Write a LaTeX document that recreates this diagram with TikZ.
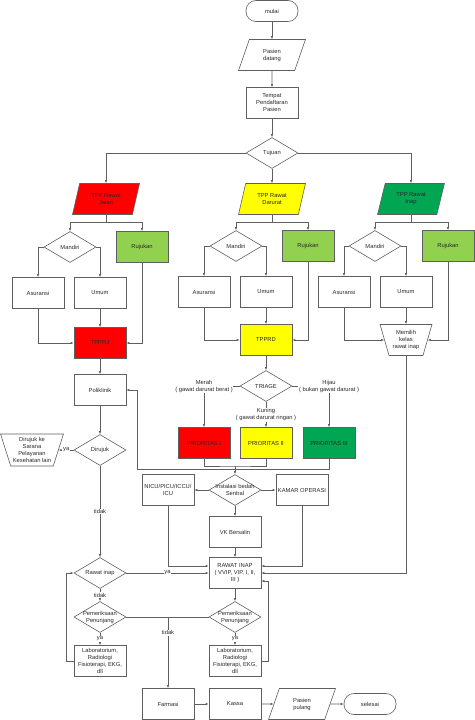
\documentclass[tikz,border=0pt]{standalone}
\usepackage{fontspec}
\setmainfont{Liberation Sans}
\usetikzlibrary{shapes.geometric,arrows.meta,positioning}
\definecolor{tppred}{RGB}{255,0,0}
\definecolor{tppyellow}{RGB}{255,255,0}
\definecolor{tppgreen}{RGB}{0,166,81}
\definecolor{rujukgreen}{RGB}{146,208,80}
\definecolor{linegray}{RGB}{95,95,95}
\definecolor{txtgray}{RGB}{40,40,40}

\begin{document}
\begin{tikzpicture}[
    x=1pt, y=-1pt,
    color=linegray, line width=0.6pt,
    font=\fontsize{5.8}{7}\selectfont,
    >={Latex[length=3pt,width=2.4pt]},
    block/.style={draw, rectangle, minimum height=31, minimum width=52, inner sep=0.5pt, align=center, text=txtgray},
    decision/.style={draw, diamond, aspect=1.7, minimum width=52, minimum height=31, inner sep=-4pt, align=center, text=txtgray},
    io/.style={draw, trapezium, trapezium left angle=72, trapezium right angle=108, trapezium stretches=true, minimum width=67, minimum height=31, inner sep=1pt, align=center, text=txtgray},
    trap/.style={draw, trapezium, trapezium left angle=110, trapezium right angle=110, trapezium stretches=true, minimum width=52, minimum height=31, inner sep=0pt, align=center, text=txtgray},
    term/.style={draw, rectangle, rounded corners=10pt, minimum width=52, minimum height=21, text=txtgray},
    lbl/.style={fill=white, inner sep=0.8pt, align=center, text=txtgray}
]
    \useasboundingbox (0,0) rectangle (474,720);

    % Pendaftaran
    \node [term] (mulai) at (272,11) {mulai};
    \node [io] (datang) at (272,55) {Pasien\\datang};
    \node [block] (daftar) at (272,103) {Tempat\\Pendaftaran\\Pasien};
    \node [decision] (tujuan) at (272,153) {Tujuan};

    % Tempat penerimaan pasien
    \node [io, fill=tppred] (tppjalan) at (106,199) {TPP Rawat\\Jalan};
    \node [io, fill=tppyellow] (tppdarurat) at (272,199) {TPP Rawat\\Darurat};
    \node [io, fill=tppgreen] (tppinap) at (411,199) {TPP Rawat\\Inap};

    % Rawat jalan
    \node [decision] (mandirijalan) at (70,247) {Mandiri};
    \node [block, fill=rujukgreen] (rujukjalan) at (142,247) {Rujukan};
    \node [block] (asurjalan) at (38,293) {Asuransi};
    \node [block] (umumjalan) at (100,293) {Umum};
    \node [block, fill=tppred] (tpprj) at (100,343) {TPPRJ};

    % Rawat darurat
    \node [decision] (mandiridarurat) at (236,246) {Mandiri};
    \node [block, fill=rujukgreen] (rujukdarurat) at (308,246) {Rujukan};
    \node [block] (asurdarurat) at (204,292) {Asuransi};
    \node [block] (umumdarurat) at (266,292) {Umum};
    \node [block, fill=tppyellow] (tpprd) at (266,340) {TPPRD};

    % Rawat inap
    \node [decision] (mandiriinap) at (375,246) {Mandiri};
    \node [block, fill=rujukgreen] (rujukinap) at (448,246) {Rujukan};
    \node [block] (asurinap) at (344,292) {Asuransi};
    \node [block] (umuminap) at (406,292) {Umum};
    \node [trap] (kelas) at (406,340) {Memilih\\kelas\\rawat inap};

    % Triage
    \node [decision] (triage) at (266,386) {TRIAGE};
    \node [block, fill=tppred] (prio1) at (204,443) {PRIORITAS I};
    \node [block, fill=tppyellow] (prio2) at (266,443) {PRIORITAS II};
    \node [block, fill=tppgreen] (prio3) at (329,443) {PRIORITAS III};

    % Poliklinik
    \node [block] (poli) at (100,390) {Poliklinik};
    \node [decision] (dirujuk) at (100,450) {Dirujuk};
    \node [trap, minimum width=63, minimum height=32] (rujukluar) at (32,450) {Dirujuk ke\\Sarana\\Pelayanan\\Kesehatan lain};

    % Instalasi bedah
    \node [decision] (bedah) at (235,490) {Instalasi bedah\\Sentral};
    \node [block] (nicu) at (168,490) {NICU/PICU/ICCU/\\ICU};
    \node [block] (kamar) at (302,490) {KAMAR OPERASI};
    \node [block] (vk) at (235,532) {VK Bersalin};
    \node [block] (rawatinap) at (235,573) {RAWAT INAP\\( VVIP, VIP, I, II,\\III )};

    % Penunjang dan pulang
    \node [decision] (cekinap) at (100,573) {Rawat inap};
    \node [decision] (periksajalan) at (100,617) {Pemeriksaan\\Penunjang};
    \node [block] (labjalan) at (100,661) {Laboratorium,\\Radiologi\\Fisioterapi, EKG,\\dll};
    \node [decision] (periksainap) at (235,617) {Pemeriksaan\\Penunjang};
    \node [block] (labinap) at (235,661) {Laboratorium,\\Radiologi\\Fisioterapi, EKG,\\dll};
    \node [block] (farmasi) at (168,704) {Farmasi};
    \node [block] (kassa) at (235,704) {Kassa};
    \node [io] (pulang) at (302,704) {Pasien\\pulang};
    \node [term] (selesai) at (370,704) {selesai};

    % Garis alur atas
    \draw [->] (mulai) -- (datang);
    \draw [->] (datang) -- (daftar);
    \draw [->] (daftar) -- (tujuan);
    \draw [->] (tujuan.west) -| (tppjalan.north);
    \draw [->] (tujuan) -- (tppdarurat);
    \draw [->] (tujuan.east) -| (tppinap.north);

    % Cabang tiap TPP
    \draw [->] (tppjalan.south) -- ++(0,7) -| (mandirijalan.north);
    \draw [->] (tppjalan.south) -- ++(0,7) -| (rujukjalan.north);
    \draw [->] (tppdarurat.south) -- ++(0,7) -| (mandiridarurat.north);
    \draw [->] (tppdarurat.south) -- ++(0,7) -| (rujukdarurat.north);
    \draw [->] (tppinap.south) -- ++(0,7) -| (mandiriinap.north);
    \draw [->] (tppinap.south) -- ++(0,7) -| (rujukinap.north);

    \draw [->] (mandirijalan.west) -| (asurjalan.north);
    \draw [->] (mandirijalan.east) -| (umumjalan.north);
    \draw [->] (asurjalan.south) |- (tpprj.west);
    \draw [->] (umumjalan) -- (tpprj);
    \draw [->] (rujukjalan.south) |- (tpprj.east);

    \draw [->] (mandiridarurat.west) -| (asurdarurat.north);
    \draw [->] (mandiridarurat.east) -| (umumdarurat.north);
    \draw [->] (asurdarurat.south) |- (tpprd.west);
    \draw [->] (umumdarurat) -- (tpprd);
    \draw [->] (rujukdarurat.south) |- (tpprd.east);

    \draw [->] (mandiriinap.west) -| (asurinap.north);
    \draw [->] (mandiriinap.east) -| (umuminap.north);
    \draw [->] (asurinap.south) |- (kelas.west);
    \draw [->] (umuminap) -- (kelas);
    \draw [->] (rujukinap.south) |- (kelas.east);

    % Rawat jalan ke bawah
    \draw [->] (tpprj) -- (poli);
    \draw [->] (poli) -- (dirujuk);
    \draw [->] (dirujuk) -- node[lbl] {ya} (rujukluar);
    \draw [->] (dirujuk) -- node[lbl] {tidak} (cekinap);
    \draw [->] (cekinap) -- node[lbl] {ya} (rawatinap);
    \draw [->] (cekinap) -- node[lbl] {tidak} (periksajalan);
    \draw [->] (periksajalan) -- node[lbl] {ya} (labjalan);
    \draw [->] (labjalan.west) -- ++(-7,0) |- (cekinap.west);
    \draw (periksajalan.east) -- (periksainap.west);
    \draw [->] (periksajalan.east -| farmasi.north) -- node[lbl, pos=0.22] {tidak} (farmasi.north);

    % Triage
    \draw [->] (tpprd) -- (triage);
    \draw [->] (triage.west) -| node[lbl] {Merah\\( gawat darurat berat )} (prio1.north);
    \draw [->] (triage) -- node[lbl] {Kuning\\( gawat darurat ringan )} (prio2);
    \draw [->] (triage.east) -| node[lbl] {Hijau\\( bukan gawat darurat )} (prio3.north);

    \coordinate (gabung) at (235,466);
    \coordinate (balik) at (137,469);
    \draw (prio1.south) |- (gabung) -| (prio2.south);
    \draw [->] (gabung) -- (bedah);
    \draw [->] (prio3.south) |- (balik) |- (poli.east);

    % Instalasi bedah sentral
    \draw [->] (bedah) -- (nicu);
    \draw [->] (bedah) -- (kamar);
    \draw [->] (bedah) -- (vk);
    \draw [->] (nicu.south) |- ([yshift=7pt]rawatinap.west);
    \draw [->] (kamar.south) |- ([yshift=7pt]rawatinap.east);
    \draw [->] (vk) -- (rawatinap);
    \draw [->] (kelas.south) |- (rawatinap.east);
    \draw [->] (rawatinap) -- (periksainap);
    \draw [->] (periksainap) -- node[lbl] {ya} (labinap);
    \draw [->] (labinap.east) -- ++(7,0) |- ([yshift=-8pt]rawatinap.east);

    % Pulang
    \draw [->] (farmasi) -- (kassa);
    \draw [->] (kassa) -- (pulang);
    \draw [->] (pulang) -- (selesai);

\end{tikzpicture}
\end{document}
